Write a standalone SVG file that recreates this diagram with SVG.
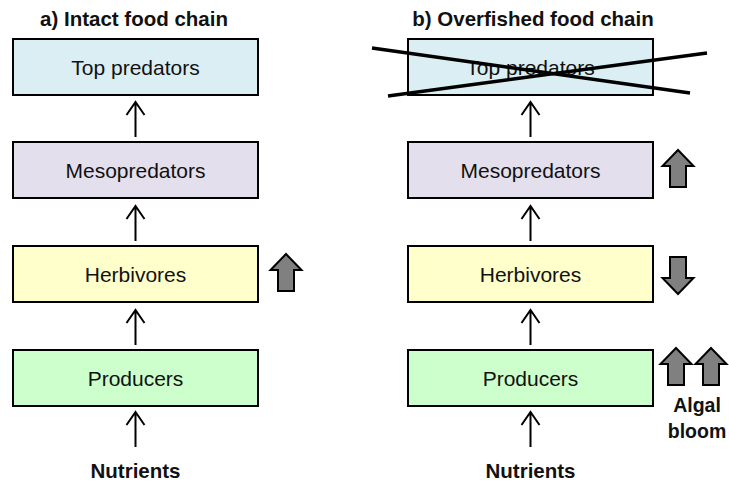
<svg xmlns="http://www.w3.org/2000/svg" width="729" height="482" viewBox="0 0 729 482">
<defs>
<style>
.box{stroke:#000;stroke-width:2}
.lbl{font-family:"Liberation Sans",Arial,sans-serif;font-size:21px;fill:#111;text-anchor:middle}
.ttl{font-family:"Liberation Sans",Arial,sans-serif;font-size:20.5px;font-weight:bold;fill:#111;text-anchor:middle}
.ab{font-family:"Liberation Sans",Arial,sans-serif;font-size:19.5px;font-weight:bold;fill:#111;text-anchor:middle}
.conn{stroke:#000;stroke-width:2;fill:none}
.blk{fill:#808080;stroke:#000;stroke-width:2;stroke-linejoin:miter}
.x{stroke:#000;stroke-width:3.5;stroke-linecap:butt}
</style>
<g id="arrowUp"><path d="M0,0 L15.5,16 L8,16 L8,37 L-8,37 L-8,16 L-15.5,16 Z"/></g>
</defs>
<rect width="729" height="482" fill="#fff"/>
<text class="ttl" x="134" y="26">a) Intact food chain</text>
<text class="ttl" x="533" y="26">b) Overfished food chain</text>

<g id="a-top"><rect class="box" x="13" y="39" width="245" height="56" fill="#daeef3"/><text class="lbl" x="135.5" y="75">Top predators</text></g>
<g id="a-meso"><rect class="box" x="13" y="142" width="245" height="56" fill="#e4dfec"/><text class="lbl" x="135.5" y="178">Mesopredators</text></g>
<g id="a-herb"><rect class="box" x="13" y="246" width="245" height="56" fill="#ffffcc"/><text class="lbl" x="135.5" y="282">Herbivores</text></g>
<g id="a-prod"><rect class="box" x="13" y="350" width="245" height="56" fill="#ccffcc"/><text class="lbl" x="135.5" y="386">Producers</text></g>
<g id="a-nut"><text class="ttl" x="135.5" y="478">Nutrients</text></g>

<g id="b-top"><rect class="box" x="408" y="39" width="245" height="56" fill="#daeef3"/><text class="lbl" x="530.5" y="75">Top predators</text></g>
<g id="b-meso"><rect class="box" x="408" y="142" width="245" height="56" fill="#e4dfec"/><text class="lbl" x="530.5" y="178">Mesopredators</text></g>
<g id="b-herb"><rect class="box" x="408" y="246" width="245" height="56" fill="#ffffcc"/><text class="lbl" x="530.5" y="282">Herbivores</text></g>
<g id="b-prod"><rect class="box" x="408" y="350" width="245" height="56" fill="#ccffcc"/><text class="lbl" x="530.5" y="386">Producers</text></g>
<g id="b-nut"><text class="ttl" x="530.5" y="478">Nutrients</text></g>

<g id="cross"><line class="x" x1="372" y1="48" x2="690" y2="93"/><line class="x" x1="388" y1="96" x2="707" y2="53"/></g>

<g id="connectors">
<path class="conn" d="M135.5,137 V102 M126.5,115 L135.5,102 L144.5,115"/>
<path class="conn" d="M135.5,241 V206 M126.5,219 L135.5,206 L144.5,219"/>
<path class="conn" d="M135.5,345 V310 M126.5,323 L135.5,310 L144.5,323"/>
<path class="conn" d="M135.5,447 V412 M126.5,425 L135.5,412 L144.5,425"/>
<path class="conn" d="M530.5,137 V102 M521.5,115 L530.5,102 L539.5,115"/>
<path class="conn" d="M530.5,241 V206 M521.5,219 L530.5,206 L539.5,219"/>
<path class="conn" d="M530.5,345 V310 M521.5,323 L530.5,310 L539.5,323"/>
<path class="conn" d="M530.5,447 V412 M521.5,425 L530.5,412 L539.5,425"/>
</g>

<g id="indicators">
<use href="#arrowUp" class="blk" x="286" y="254"/>
<use href="#arrowUp" class="blk" x="678" y="150"/>
<use href="#arrowUp" class="blk" transform="translate(678,294) scale(1,-1)"/>
<use href="#arrowUp" class="blk" x="676" y="348"/>
<use href="#arrowUp" class="blk" x="711" y="348"/>
</g>
<g id="algal"><text class="ab" x="697" y="412">Algal</text><text class="ab" x="697" y="438">bloom</text></g>
</svg>
